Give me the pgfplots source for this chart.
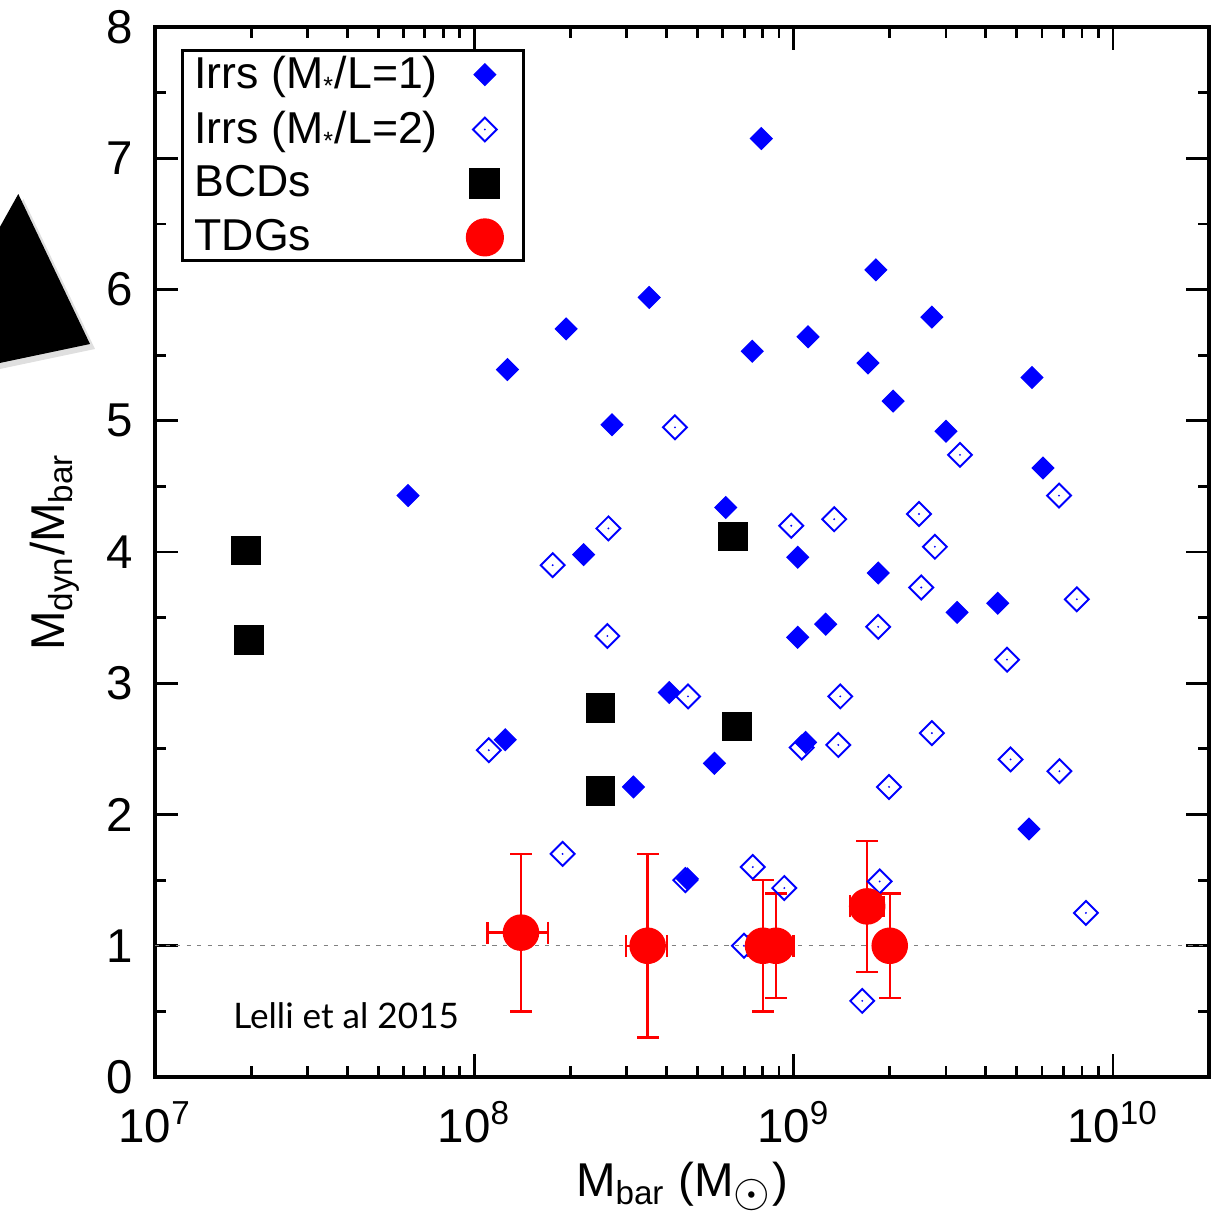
\documentclass[border=0pt]{standalone}
\usepackage{pgfplots}
\pgfplotsset{compat=1.18}
\usepackage{pgfplotstable}
\usepackage{fontspec}
\setmainfont{Liberation Sans}
\newfontfamily\gillfont{Lato}
\usetikzlibrary{shadows}

\pgfdeclareplotmark{fdiam}{%
  \pgfpathmoveto{\pgfqpoint{0pt}{\pgfplotmarksize}}%
  \pgfpathlineto{\pgfqpoint{\pgfplotmarksize}{0pt}}%
  \pgfpathlineto{\pgfqpoint{0pt}{-\pgfplotmarksize}}%
  \pgfpathlineto{\pgfqpoint{-\pgfplotmarksize}{0pt}}%
  \pgfpathclose
  \pgfusepathqfillstroke
}
\pgfdeclareplotmark{odiam}{%
  \pgfpathmoveto{\pgfqpoint{0pt}{\pgfplotmarksize}}%
  \pgfpathlineto{\pgfqpoint{\pgfplotmarksize}{0pt}}%
  \pgfpathlineto{\pgfqpoint{0pt}{-\pgfplotmarksize}}%
  \pgfpathlineto{\pgfqpoint{-\pgfplotmarksize}{0pt}}%
  \pgfpathclose
  \pgfusepathqstroke
  \pgfpathcircle{\pgfpointorigin}{0.3pt}%
  \pgfusepathqfill
}

\pgfplotstableread{
x y
6.20e7 4.43
1.27e8 5.39
1.94e8 5.70
3.53e8 5.94
2.70e8 4.97
2.20e8 3.98
7.92e8 7.15
7.42e8 5.53
1.11e9 5.64
1.81e9 6.15
1.71e9 5.44
2.05e9 5.15
2.71e9 5.79
3.00e9 4.92
5.58e9 5.33
6.04e9 4.64
6.13e8 4.34
1.03e9 3.96
1.84e9 3.84
3.25e9 3.54
4.36e9 3.61
1.26e9 3.45
1.03e9 3.35
4.08e8 2.93
1.25e8 2.57
3.15e8 2.21
5.65e8 2.39
1.09e9 2.55
4.65e8 1.51
5.46e9 1.89
}\irrsone

\pgfplotstableread{
x y
4.25e8 4.95
3.32e9 4.74
6.78e9 4.43
2.63e8 4.18
9.83e8 4.20
1.34e9 4.25
2.47e9 4.29
2.77e9 4.04
2.51e9 3.73
7.71e9 3.64
1.76e8 3.90
2.61e8 3.36
1.84e9 3.43
4.66e9 3.18
4.67e8 2.90
1.40e9 2.90
2.71e9 2.62
1.06e9 2.51
1.38e9 2.53
4.78e9 2.42
6.80e9 2.33
1.99e9 2.21
1.11e8 2.49
1.89e8 1.70
4.58e8 1.50
7.45e8 1.60
9.35e8 1.44
6.99e8 1.00
1.86e9 1.49
1.64e9 0.58
8.23e9 1.25
}\irrstwo

\pgfplotstableread{
x y
1.93e7 4.01
1.97e7 3.33
2.48e8 2.81
2.48e8 2.18
6.45e8 4.12
6.66e8 2.67
}\bcds

\pgfplotstableread{
x y exp exm eyp eym
1.40e8 1.10 0.30e8 0.30e8 0.60 0.60
3.49e8 1.00 0.53e8 0.50e8 0.70 0.70
8.02e8 1.00 0.90e8 0.80e8 0.50 0.50
8.81e8 1.00 1.19e8 1.00e8 0.40 0.40
1.70e9 1.30 0.21e9 0.20e9 0.50 0.50
2.00e9 1.00 0.14e9 0.13e9 0.40 0.40
}\tdgs

\begin{document}
\begin{tikzpicture}
\useasboundingbox (-1.55cm,-1.34cm) rectangle (10.60cm,10.77cm);
\begin{axis}[
  name=ax,
  at={(0,0)}, anchor=south west,
  scale only axis,
  width=10.54cm, height=10.5cm,
  xmode=log,
  xmin=1e7, xmax=2e10,
  ymin=0, ymax=8,
  xtick={1e7,1e8,1e9,1e10},
  xticklabels={10\textsuperscript{7},10\textsuperscript{8},10\textsuperscript{9},10\textsuperscript{10}},
  minor xtick={2e7,3e7,4e7,5e7,6e7,7e7,8e7,9e7,2e8,3e8,4e8,5e8,6e8,7e8,8e8,9e8,2e9,3e9,4e9,5e9,6e9,7e9,8e9,9e9},
  ytick={0,1,...,8},
  minor ytick={0.5,1.5,2.5,3.5,4.5,5.5,6.5,7.5},
  tick align=inside,
  major tick length=0.23cm,
  minor tick length=0.11cm,
  tick style={black, line width=0.8pt},
  axis line style={line width=1.1pt},
  ticklabel style={font=\fontsize{13.5}{15}\selectfont},
  /pgf/number format/assume math mode=true,
  yticklabel style={xshift=-0.1cm},
  xticklabel style={yshift=-0.12cm},
  xlabel={M\textsubscript{bar} (M\textsubscript{\scalebox{1.45}{$\odot$}})},
  ylabel={M\textsubscript{dyn}/M\textsubscript{bar}},
  label style={font=\fontsize{13.5}{15}\selectfont},
  xlabel style={at={(axis description cs:0.5,-0.114)}, anchor=base},
  ylabel style={at={(axis description cs:-0.095,0.5)}, anchor=center},
  legend plot pos=right,
  legend cell align=left,
  legend image code/.code={%
    \path[draw=none, fill=none] (0cm,-0.05cm) rectangle (0.74cm,0.05cm);
    \draw[#1] plot coordinates {(0.40cm,0cm)};},
  legend style={at={(axis description cs:0.0247,0.979)}, anchor=north west,
    font=\fontsize{12.7}{14}\selectfont, draw=black, line width=0.85pt,
    nodes={inner xsep=2pt, inner ysep=1.5pt},
    inner xsep=1.4pt, inner ysep=0pt, row sep=1.9pt},
]
\addplot[gray, line width=0.4pt, dash pattern=on 1.2pt off 1.8pt, forget plot] coordinates {(1e7,1) (2e10,1)};

\addplot[only marks, mark=odiam, mark size=3.4pt, draw=blue, fill=blue, line width=0.55pt, forget plot] table[x=x,y=y] {\irrstwo};

\addplot[only marks, mark=fdiam, mark size=3.1pt, draw=blue, fill=blue, line width=0.3pt] table[x=x,y=y] {\irrsone};
\addlegendentry{Irrs (M\textsubscript{\scalebox{0.8}{*}}/L=1)}

\addlegendimage{only marks, mark=odiam, mark size=3.4pt, draw=blue, fill=blue, line width=0.55pt}
\addlegendentry{Irrs (M\textsubscript{\scalebox{0.8}{*}}/L=2)}

\addplot[only marks, mark=square*, mark size=4pt, draw=black, fill=black] table[x=x,y=y] {\bcds};
\addlegendentry{BCDs}

\addplot[only marks, mark=*, mark size=5pt, draw=red, fill=red,
  error bars/.cd, x dir=both, x explicit, y dir=both, y explicit,
  error bar style={red, line width=0.7pt},
  error mark options={red, line width=0.7pt, mark size=3.1pt, rotate=90}]
  table[x=x, y=y, x error plus=exp, x error minus=exm, y error plus=eyp, y error minus=eym] {\tdgs};
\addlegendentry{TDGs}

\node[anchor=base west, inner sep=0pt, font=\gillfont\fontsize{10}{12}\selectfont] at (axis cs:1.75e7,0.373) {Lelli et al 2015};
\end{axis}
\fill[black, drop shadow={opacity=0.25, shadow xshift=0.05cm, shadow yshift=-0.05cm}]
  ([shift={(-1.367cm,8.83cm)}]ax.south west) -- ([shift={(-0.65cm,7.33cm)}]ax.south west) -- ([shift={(-2.41cm,6.96cm)}]ax.south west) -- cycle;
\end{tikzpicture}
\end{document}
